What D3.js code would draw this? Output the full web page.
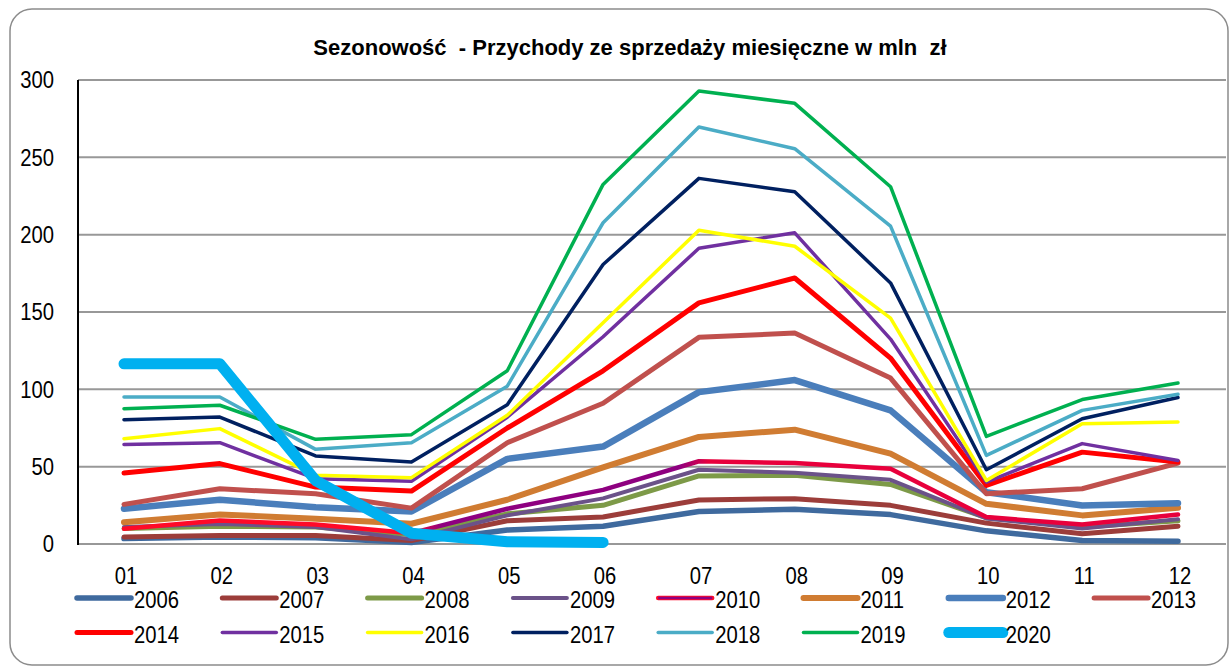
<!DOCTYPE html>
<meta charset="utf-8">
<style>
    body { margin: 0; background: #fff; }
    text { font-family: "Liberation Sans", Arial, sans-serif; fill: #000; }
    .grid line { stroke: #989898; stroke-width: 2px; }
    .series path { fill: none; stroke-linecap: round; stroke-linejoin: round; }
    .lbl { font-size: 23px; }
</style>
<svg width="1232" height="669"></svg>
<script src="https://cdn.jsdelivr.net/npm/d3@7"></script>
<script>

    // chart data
    var months = ["01", "02", "03", "04", "05", "06", "07", "08", "09", "10", "11", "12"];
    var yTicks = [0, 50, 100, 150, 200, 250, 300];

    var v2006 = [3.5, 4.5, 4, 1, 9, 11.5, 21, 22.5, 19, 8.5, 2.3, 1.8];
    var v2007 = [4.5, 5.5, 5.5, 2.3, 15, 17.5, 28.5, 29.3, 25, 13.5, 6.6, 11.5];
    var v2008 = [10, 11.5, 11, 6, 19.5, 25, 44, 44.5, 38.5, 17, 11, 15];
    var v2009 = [11, 13, 11, 3, 18.5, 29.5, 48, 46, 41.5, 16.5, 10, 16];
    var v2010 = [9.8, 15.2, 12.6, 7, 22.8, 35, 53.5, 52.3, 48.7, 17.4, 12.6, 19.1];
    var v2011 = [14.1, 19.1, 16.3, 13.1, 28.6, 49.5, 69.2, 73.9, 58.4, 26, 18.5, 23.4];
    var v2012 = [22.8, 28.6, 23.8, 21, 55, 63, 98.2, 106, 86.4, 33.5, 24.9, 26.4];
    var v2013 = [25.6, 35.7, 32.5, 23.2, 65.5, 91, 133.6, 136.4, 107.3, 32.5, 35.7, 52.3];
    var v2014 = [45.9, 52, 36.8, 34.2, 75, 112, 155.9, 172, 120.2, 37.9, 59.4, 53];
    var v2015 = [64.4, 65.5, 42.2, 40.5, 82, 134, 191.2, 201.2, 132.5, 40, 64.9, 54];
    var v2016 = [68.1, 74.6, 44.4, 42.9, 83.2, 143, 202.9, 192.5, 146.1, 41.1, 77.8, 78.9];
    var v2017 = [80.4, 82.1, 56.9, 53, 90.1, 180.7, 236.4, 227.7, 168.8, 48, 81, 94.7];
    var v2018 = [95, 95, 61.2, 65.5, 102, 207.7, 269.6, 255.6, 205.5, 57.3, 86.4, 96.8];
    var v2019 = [87.5, 89.7, 67.7, 70.7, 112, 232.5, 292.9, 284.9, 231, 69.6, 93.4, 104.1];
    var v2020 = [116.5, 116.5, 41, 7, 1.5, 1];

    var years = ["2006", "2007", "2008", "2009", "2010", "2011", "2012", "2013",
                 "2014", "2015", "2016", "2017", "2018", "2019", "2020"];
    var values = [v2006, v2007, v2008, v2009, v2010, v2011, v2012, v2013,
                  v2014, v2015, v2016, v2017, v2018, v2019, v2020];

    // styles
    var colors = ["#3f6a9e", "#9c3d3a", "#7d9a48", "#6b5289", "url(#grad2010)", "#d07c32", "#4a7ebb", "#c0504d",
                  "#ff0000", "#7030a0", "#ffff00", "#002060", "#4bacc6", "#00b050", "#00b0f0"];
    var widths = [5.5, 5, 5, 4, 4.5, 6, 6.5, 5, 5, 3.5, 3.5, 3.5, 3.5, 3.5, 11];

    var series = years.map(function(y, i) {
        return { year: y, values: values[i], color: colors[i], width: widths[i] };
    });

    var svg = d3.select("svg");

    var x = d3.scalePoint().domain(months).range([124, 1178]);
    var y = d3.scaleLinear().domain([0, 300]).range([544, 80]);

    // labels are a bit condensed in the original
    var squeeze = 0.88;

    // frame
    svg.append("rect")
            .attr("x", 10).attr("y", 9)
            .attr("width", 1218).attr("height", 656)
            .attr("rx", 22).attr("ry", 22)
            .attr("fill", "#fff")
            .attr("stroke", "#8c8c8c")
            .attr("stroke-width", 1.5);

    // gradient for 2010 (red -> purple on the spring rise -> crimson)
    var grad = svg.append("defs").append("linearGradient")
            .attr("id", "grad2010")
            .attr("gradientUnits", "userSpaceOnUse")
            .attr("x1", x("01")).attr("x2", x("12"))
            .attr("y1", 0).attr("y2", 0);
    var span = x("12") - x("01");
    function off(m, d) { return (x(m) - x("01") + d) / span; }
    grad.append("stop").attr("offset", off("04", 0)).attr("stop-color", "#ff0a28");
    grad.append("stop").attr("offset", off("04", 30)).attr("stop-color", "#8e0080");
    grad.append("stop").attr("offset", off("07", -20)).attr("stop-color", "#8e0080");
    grad.append("stop").attr("offset", off("07", 10)).attr("stop-color", "#e8003c");
    grad.append("stop").attr("offset", 1).attr("stop-color", "#e8003c");

    // title
    svg.append("text")
            .attr("x", 630).attr("y", 55)
            .attr("text-anchor", "middle")
            .style("font-size", "22px")
            .style("font-weight", "bold")
            .style("white-space", "pre")
            .text("Sezonowość  - Przychody ze sprzedaży miesięczne w mln  zł");

    // gridlines
    svg.append("g")
            .attr("class", "grid")
            .selectAll("line")
            .data(yTicks)
            .enter().append("line")
            .attr("x1", 78).attr("x2", 1226)
            .attr("y1", function(d) { return y(d); })
            .attr("y2", function(d) { return y(d); });

    // y axis line
    svg.append("line")
            .attr("x1", 78).attr("x2", 78)
            .attr("y1", y(300)).attr("y2", y(0) + 1)
            .attr("stroke", "#000")
            .attr("stroke-width", 2);

    // y labels
    svg.append("g")
            .selectAll("text")
            .data(yTicks)
            .enter().append("text")
            .attr("class", "lbl")
            .attr("transform", function(d) { return "translate(54," + y(d) + ") scale(" + squeeze + ",1)"; })
            .attr("dy", "0.36em")
            .attr("text-anchor", "end")
            .text(function(d) { return d; });

    // x labels
    svg.append("g")
            .selectAll("text")
            .data(months)
            .enter().append("text")
            .attr("class", "lbl")
            .attr("transform", function(d) { return "translate(" + (x(d) + 2) + ",584) scale(" + squeeze + ",1)"; })
            .attr("text-anchor", "middle")
            .text(function(d) { return d; });

    // lines
    var line = d3.line()
            .x(function(d, i) { return x(months[i]); })
            .y(function(d) { return y(d); });

    svg.append("g")
            .attr("class", "series")
            .selectAll("path")
            .data(series)
            .enter().append("path")
            .attr("d", function(d) { return line(d.values); })
            .attr("stroke", function(d) { return d.color; })
            .attr("stroke-width", function(d) { return d.width; });

    // legend
    var legend = svg.append("g")
            .selectAll("g")
            .data(series)
            .enter().append("g")
            .attr("transform", function(d, i) {
                return "translate(" + (77 + (i % 8) * 145.3) + "," + (598 + Math.floor(i / 8) * 34.5) + ")";
            });

    legend.append("line")
            .attr("x1", 0).attr("x2", 54)
            .attr("stroke", function(d) { return d.year === "2010" ? "#ff0a28" : d.color; })
            .attr("stroke-width", function(d) { return d.width; })
            .attr("stroke-linecap", "round");

    legend.filter(function(d) { return d.year === "2010"; })
            .append("line")
            .attr("x1", 0).attr("x2", 54)
            .attr("stroke", "#8e0080")
            .attr("stroke-width", 2.5);

    legend.append("text")
            .attr("class", "lbl")
            .attr("transform", "translate(57,10) scale(" + squeeze + ",1)")
            .text(function(d) { return d.year; });

</script>
